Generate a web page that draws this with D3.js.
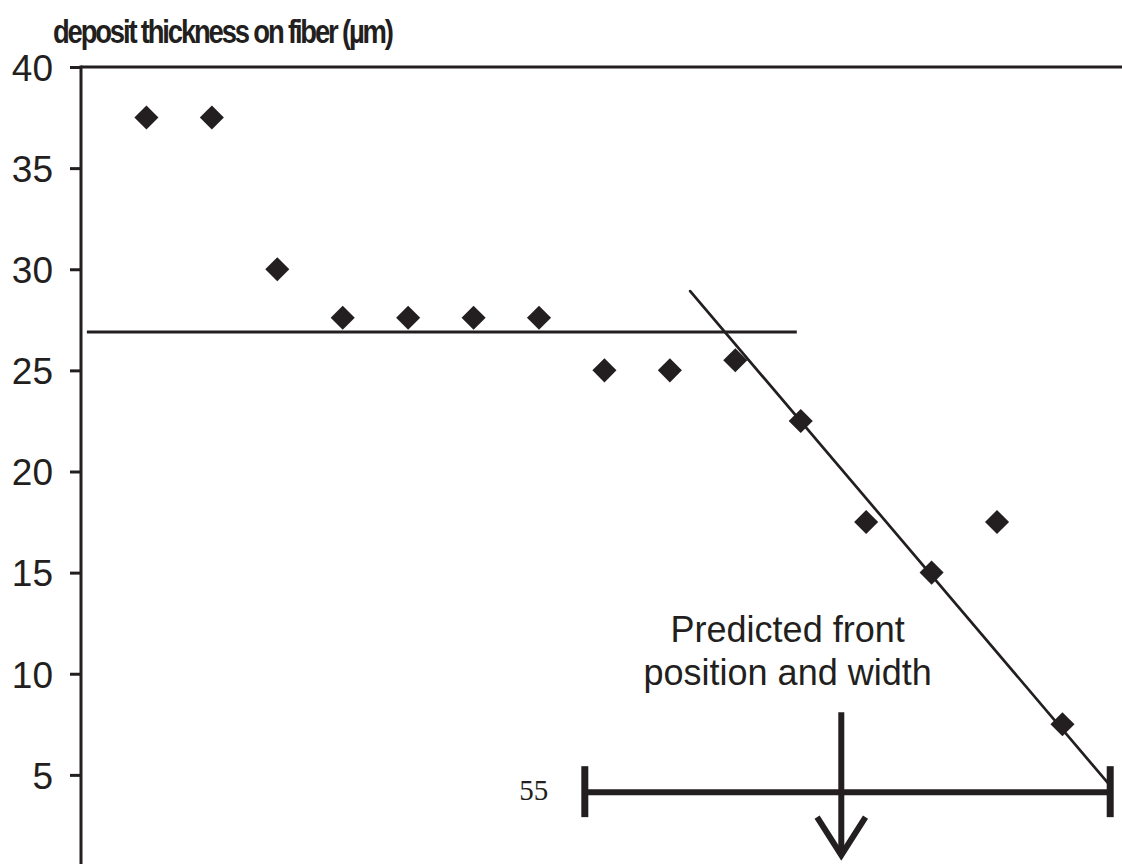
<!DOCTYPE html>
<html>
<head>
<meta charset="utf-8">
<script src="https://cdn.jsdelivr.net/npm/d3@7"></script>
<style>
  html, body { margin: 0; padding: 0; background: #fff; }
  svg { display: block; }
</style>
</head>
<body>
<div id="chart"></div>
<script>
// ---- data ----
const positions = [1, 2, 3, 4, 5, 6, 7, 8, 9, 10, 11, 12, 13, 14, 15];
const thickness = [37.5, 37.5, 30, 27.6, 27.6, 27.6, 27.6, 25, 25, 25.5, 22.5, 17.5, 15, 17.5, 7.5];
const yTicks = [0, 5, 10, 15, 20, 25, 30, 35, 40];
const plateauLine = [[0.09, 26.9], [10.94, 26.9]];
const fitLine = [[9.31, 28.92], [15.71, 4.54]];
const frontRange = [7.7, 15.73];   // predicted front width (x)
const frontLevel = 4.14;           // y level of the bracket
const frontCenter = 11.62;         // predicted front position
const titleText = "deposit thickness on fiber (µm)";
const noteLines = ["Predicted front", "position and width"];
const bracketLabel = "55";

// ---- setup ----
const W = 1122, H = 864;
const ink = "#231f20";
const svg = d3.select("#chart").append("svg").attr("width", W).attr("height", H);

const x = d3.scaleLinear().domain([0, 16]).range([81, 81 + 16 * 65.43]);
const y = d3.scaleLinear().domain([0, 40]).range([876, 67]);

// title (condensed bold)
const title = svg.append("text")
  .attr("x", 0).attr("y", 0)
  .attr("font-family", "Liberation Sans, Arial, sans-serif")
  .attr("font-weight", "bold")
  .attr("font-size", 33)
  .attr("letter-spacing", -2.6)
  .attr("fill", ink)
  .text(titleText);
const tw = title.node().getComputedTextLength();
title.attr("transform", `translate(53,43) scale(${339 / tw},1)`);

// y axis
const yAxis = d3.axisLeft(y).tickValues(yTicks).tickSize(11).tickPadding(17);
const gy = svg.append("g").attr("transform", `translate(${x(0)},0)`).call(yAxis);
gy.select(".domain").remove();
gy.selectAll(".tick line").attr("stroke", ink).attr("stroke-width", 3);
gy.selectAll(".tick text")
  .attr("font-family", "Liberation Sans, Arial, sans-serif")
  .attr("font-size", 37)
  .attr("fill", ink)
  .attr("dy", "0.36em");

// axis line + top frame line
svg.append("line").attr("x1", x(0)).attr("x2", x(0)).attr("y1", y(40) - 1.5).attr("y2", H)
  .attr("stroke", ink).attr("stroke-width", 3);
svg.append("line").attr("x1", x(0)).attr("x2", W).attr("y1", y(40)).attr("y2", y(40))
  .attr("stroke", ink).attr("stroke-width", 3);

// lines
const lineGen = d3.line().x(d => x(d[0])).y(d => y(d[1]));
svg.append("path").attr("d", lineGen(plateauLine)).attr("fill", "none")
  .attr("stroke", ink).attr("stroke-width", 3);
svg.append("path").attr("d", lineGen(fitLine)).attr("fill", "none")
  .attr("stroke", ink).attr("stroke-width", 2.7).attr("stroke-linecap", "round");

// points (diamonds)
const diamond = d3.symbol().type(d3.symbolSquare).size(290);
svg.append("g").selectAll("path").data(positions).join("path")
  .attr("d", diamond)
  .attr("transform", (d, i) => `translate(${x(d)},${y(thickness[i])}) rotate(45)`)
  .attr("fill", ink);

// bracket
const capH = [5.43, 2.91];
svg.append("line").attr("x1", x(frontRange[0])).attr("x2", x(frontRange[1]))
  .attr("y1", y(frontLevel)).attr("y2", y(frontLevel))
  .attr("stroke", ink).attr("stroke-width", 6);
frontRange.forEach(v => {
  svg.append("line").attr("x1", x(v)).attr("x2", x(v))
    .attr("y1", y(capH[0])).attr("y2", y(capH[1]))
    .attr("stroke", ink).attr("stroke-width", 7);
});
// arrow
svg.append("line").attr("x1", x(frontCenter)).attr("x2", x(frontCenter))
  .attr("y1", y(8.1)).attr("y2", y(1.2))
  .attr("stroke", ink).attr("stroke-width", 6);
svg.append("path")
  .attr("d", d3.line()([[x(11.25), y(2.91)], [x(frontCenter), y(1.03)], [x(11.99), y(2.91)]]))
  .attr("fill", "none").attr("stroke", ink).attr("stroke-width", 6)
  .attr("stroke-linejoin", "miter");

// bracket label
svg.append("text")
  .attr("x", x(7.14)).attr("y", y(frontLevel) + 8)
  .attr("text-anchor", "end")
  .attr("font-family", "Liberation Serif, DejaVu Serif, serif")
  .attr("font-size", 29)
  .attr("fill", ink)
  .text(bracketLabel);

// note
svg.append("g").selectAll("text").data(noteLines).join("text")
  .attr("x", x(10.8))
  .attr("y", (d, i) => 642 + i * 43)
  .attr("text-anchor", "middle")
  .attr("font-family", "Liberation Sans, Arial, sans-serif")
  .attr("font-size", 36)
  .attr("fill", ink)
  .text(d => d);
</script>
</body>
</html>
